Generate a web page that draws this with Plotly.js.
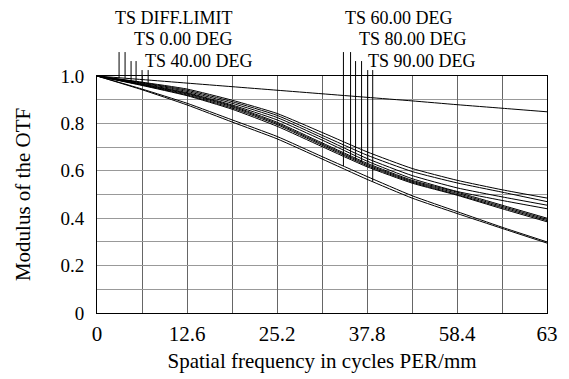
<!DOCTYPE html>
<html>
<head>
<meta charset="utf-8">
<script src="https://cdn.plot.ly/plotly-3.0.1.min.js"></script>
<style>html,body{margin:0;padding:0;background:#fff;}#chart{width:569px;height:379px;}</style>
</head>
<body>
<div id="chart"></div>
<script>
// Spatial frequency samples (cycles/mm)
var freq = [0, 6.3, 12.6, 18.9, 25.2, 31.5, 37.8, 44.1, 50.4, 56.7, 63];

// MTF values
var diffLimit = [1, 0.985, 0.97, 0.955, 0.94, 0.925, 0.91, 0.895, 0.879, 0.864, 0.849];
var deg0T  = [1, 0.974, 0.945, 0.898, 0.842, 0.762, 0.68, 0.61, 0.56, 0.52, 0.485];
var deg0S  = [1, 0.972, 0.94, 0.892, 0.834, 0.75, 0.666, 0.597, 0.549, 0.51, 0.47];
var deg40T = [1, 0.97, 0.935, 0.885, 0.825, 0.74, 0.652, 0.58, 0.528, 0.49, 0.455];
var deg40S = [1, 0.967, 0.93, 0.878, 0.815, 0.73, 0.641, 0.567, 0.513, 0.475, 0.44];
var deg60T = [1, 0.945, 0.885, 0.815, 0.745, 0.66, 0.576, 0.495, 0.428, 0.362, 0.30];
var deg60S = [1, 0.96, 0.917, 0.86, 0.788, 0.702, 0.617, 0.548, 0.497, 0.44, 0.385];
var deg80T = [1, 0.962, 0.92, 0.865, 0.795, 0.708, 0.622, 0.552, 0.50, 0.445, 0.39];
var deg80S = [1, 0.963, 0.924, 0.87, 0.80, 0.713, 0.627, 0.556, 0.505, 0.45, 0.395];
var deg90T = [1, 0.965, 0.927, 0.874, 0.805, 0.718, 0.632, 0.56, 0.51, 0.455, 0.40];
var deg90S = [1, 0.942, 0.878, 0.806, 0.735, 0.65, 0.564, 0.485, 0.42, 0.357, 0.295];

// Legend labels and the frequencies where their leader lines meet the curves
var labelsLeft  = ["TS DIFF.LIMIT", "TS 0.00 DEG", "TS 40.00 DEG"];
var labelsRight = ["TS 60.00 DEG", "TS 80.00 DEG", "TS 90.00 DEG"];
var leaderFreqLeft  = [3.09, 3.93, 4.77, 5.47, 6.31, 7.16];
var leaderFreqRight = [34.5, 35.5, 36.2, 37.04, 37.9, 38.6];

// Tick labels
var xTickVals = [0, 12.6, 25.2, 37.8, 50.4, 63];
var xTickText = ["0", "12.6", "25.2", "37.8", "58.4", "63"];
var yTickVals = [0, 0.2, 0.4, 0.6, 0.8, 1.0];
var yTickText = ["0", "0.2", "0.4", "0.6", "0.8", "1.0"];

var seriesLeft  = [diffLimit, diffLimit, deg0T, deg0S, deg40T, deg40S];
var seriesRight = [deg60T, deg60S, deg80T, deg80S, deg90T, deg90S];
var allSeries = [diffLimit, deg0T, deg0S, deg40T, deg40S, deg60T, deg60S, deg80T, deg80S, deg90T, deg90S];

var XMAX = 63;
function interp(xs, ys, x) {
  for (var i = 0; i < xs.length - 1; i++) {
    if (x >= xs[i] && x <= xs[i + 1]) {
      var t = (x - xs[i]) / (xs[i + 1] - xs[i]);
      return ys[i] + t * (ys[i + 1] - ys[i]);
    }
  }
  return ys[ys.length - 1];
}

var traces = allSeries.map(function (s) {
  return {x: freq, y: s, type: 'scatter', mode: 'lines',
    line: {color: '#000', width: 1, shape: 'spline', smoothing: 0.5},
    hoverinfo: 'skip', showlegend: false};
});

var FONT = '"Liberation Serif", "Times New Roman", serif';
var shapes = [];
var topLevels = [1.101, 1.101, 1.063, 1.063, 1.025, 1.025]; // paper-y of leader tops
function addLeaders(freqs, series) {
  freqs.forEach(function (f, i) {
    shapes.push({type: 'line', xref: 'paper', yref: 'paper',
      x0: f / XMAX, x1: f / XMAX,
      y0: interp(freq, series[i], f), y1: topLevels[i],
      line: {color: '#000', width: 1}});
  });
}
addLeaders(leaderFreqLeft, seriesLeft);
addLeaders(leaderFreqRight, seriesRight);

var annX = [0.036, 0.078, 0.102];
var annXR = [0.547, 0.578, 0.598];
var annY = [1.245, 1.155, 1.065];
var annotations = [];
labelsLeft.forEach(function (t, i) {
  annotations.push({text: t, xref: 'paper', yref: 'paper', x: annX[i], y: annY[i],
    xanchor: 'left', yanchor: 'middle', showarrow: false,
    font: {family: FONT, size: 18, color: '#000'}});
});
labelsRight.forEach(function (t, i) {
  annotations.push({text: t, xref: 'paper', yref: 'paper', x: annXR[i], y: annY[i],
    xanchor: 'left', yanchor: 'middle', showarrow: false,
    font: {family: FONT, size: 18, color: '#000'}});
});

var layout = {
  width: 569, height: 379,
  margin: {l: 97, r: 22, t: 76, b: 66, pad: 0},
  paper_bgcolor: '#fff', plot_bgcolor: '#fff',
  font: {family: FONT, size: 18, color: '#000'},
  showlegend: false,
  xaxis: {
    range: [0, 63], tickvals: xTickVals, ticktext: xTickText,
    showgrid: true, gridcolor: '#666', gridwidth: 1,
    minor: {dtick: 6.3, tick0: 0, showgrid: true, gridcolor: '#666', gridwidth: 1, ticks: ''},
    showline: true, linecolor: '#000', linewidth: 1, mirror: true,
    ticks: '', zeroline: false, ticklabelstandoff: 2,
    tickfont: {family: FONT, size: 21, color: '#000'},
    title: {text: 'Spatial frequency in cycles PER/mm', standoff: 8,
      font: {family: FONT, size: 21, color: '#000'}}
  },
  yaxis: {
    range: [0, 1], tickvals: yTickVals, ticktext: yTickText,
    showgrid: true, gridcolor: '#999', gridwidth: 1,
    minor: {dtick: 0.1, tick0: 0, showgrid: true, gridcolor: '#999', gridwidth: 1, ticks: ''},
    showline: true, linecolor: '#000', linewidth: 1, mirror: true,
    ticks: '', zeroline: false, ticklabelstandoff: 8,
    tickfont: {family: FONT, size: 19, color: '#000'},
    title: {text: 'Modulus of the OTF', standoff: 24,
      font: {family: FONT, size: 21, color: '#000'}}
  },
  shapes: shapes,
  annotations: annotations
};

Plotly.newPlot('chart', traces, layout, {staticPlot: true, displayModeBar: false});
</script>
</body>
</html>
